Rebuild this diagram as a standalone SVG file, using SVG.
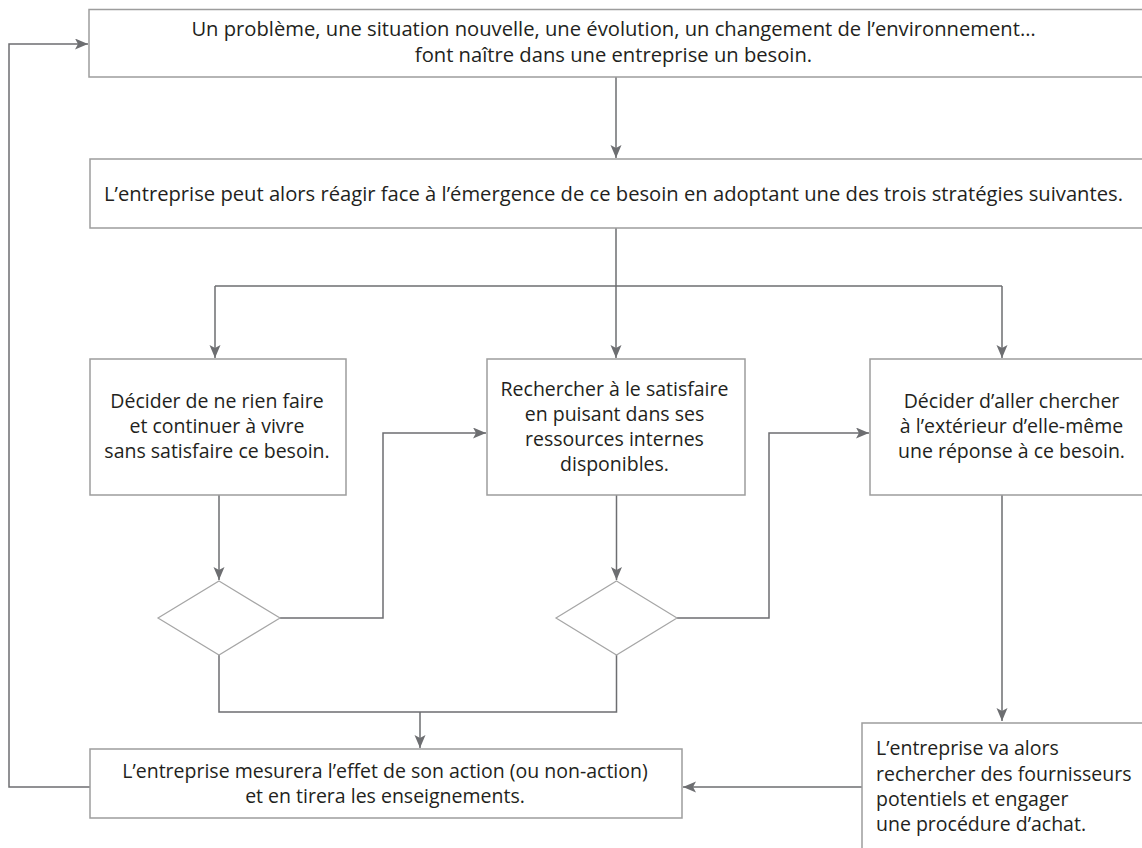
<svg xmlns="http://www.w3.org/2000/svg" width="1142" height="848" viewBox="0 0 1142 848">
<defs>
<marker id="arr" markerUnits="userSpaceOnUse" markerWidth="14" markerHeight="12" refX="13" refY="5.5" orient="auto">
<path d="M0,0 L13,5.5 L0,11 L3,5.5 z" fill="#6d6e71"/>
</marker>
<style>
.box{fill:#fff;stroke:#9d9d9d;stroke-width:1.5}
.dia{fill:#fff;stroke:#a6a6a6;stroke-width:1.2}
.con{fill:none;stroke:#6d6e71;stroke-width:1.5}
.arrow{marker-end:url(#arr)}
text{font-family:"Open Sans","Noto Sans","Liberation Sans",sans-serif;font-size:19.5px;fill:#231f20;font-variant-ligatures:none}
.big{font-size:20.2px}
.c{text-anchor:middle}
</style>
</defs>
<rect width="1142" height="848" fill="#fff"/>
<g id="connectors">
<line class="con arrow" x1="616" y1="77" x2="616" y2="158"/>
<polyline class="con" points="616,228 616,286"/>
<polyline class="con" points="215,286 1002,286"/>
<line class="con arrow" x1="215" y1="286" x2="215" y2="358"/>
<line class="con arrow" x1="616" y1="286" x2="616" y2="358"/>
<line class="con arrow" x1="1002" y1="286" x2="1002" y2="358"/>
<line class="con arrow" x1="219" y1="495" x2="219" y2="580"/>
<line class="con arrow" x1="616.5" y1="495" x2="616.5" y2="580"/>
<line class="con arrow" x1="1002" y1="495" x2="1002" y2="721"/>
<polyline class="con arrow" points="280,618 383,618 383,433 486,433"/>
<polyline class="con arrow" points="677,618 769,618 769,433 869,433"/>
<polyline class="con" points="219,655 219,712 616.5,712 616.5,655"/>
<line class="con arrow" x1="420" y1="712" x2="420" y2="748"/>
<line class="con arrow" x1="862" y1="787" x2="683" y2="787"/>
<polyline class="con arrow" points="90,787 9,787 9,44 88,44"/>
</g>
<g id="n1">
<rect class="box" x="89" y="9.5" width="1060" height="67.5"/>
<text class="c big"><tspan x="613.5" y="35.5">Un problème, une situation nouvelle, une évolution, un changement de l’environnement…</tspan><tspan x="613.5" y="61.5">font naître dans une entreprise un besoin.</tspan></text>
</g>
<g id="n2">
<rect class="box" x="90" y="159" width="1060" height="69"/>
<text class="c big" x="613.5" y="200.5">L’entreprise peut alors réagir face à l’émergence de ce besoin en adoptant une des trois stratégies suivantes.</text>
</g>
<g id="n3">
<rect class="box" x="90" y="359" width="256" height="136"/>
<text class="c"><tspan x="217" y="408">Décider de ne rien faire</tspan><tspan x="217" y="433">et continuer à vivre</tspan><tspan x="217" y="458">sans satisfaire ce besoin.</tspan></text>
</g>
<g id="n4">
<rect class="box" x="487" y="359" width="258" height="136"/>
<text class="c"><tspan x="614.5" y="395.5">Rechercher à le satisfaire</tspan><tspan x="614.5" y="420.5">en puisant dans ses</tspan><tspan x="614.5" y="445.5">ressources internes</tspan><tspan x="614.5" y="470.5">disponibles.</tspan></text>
</g>
<g id="n5">
<rect class="box" x="870" y="359" width="283" height="136"/>
<text class="c"><tspan x="1011.5" y="408">Décider d’aller chercher</tspan><tspan x="1011.5" y="433">à l’extérieur d’elle-même</tspan><tspan x="1011.5" y="458">une réponse à ce besoin.</tspan></text>
</g>
<g id="d1">
<polygon class="dia" points="219,581 280,618 219,655 158,618"/>
</g>
<g id="d2">
<polygon class="dia" points="616.5,581 677,618 616.5,655 556,618"/>
</g>
<g id="n6">
<rect class="box" x="90" y="749" width="592" height="69"/>
<text class="c"><tspan x="385" y="778">L’entreprise mesurera l’effet de son action (ou non-action)</tspan><tspan x="385" y="803">et en tirera les enseignements.</tspan></text>
</g>
<g id="n7">
<rect class="box" x="862" y="723" width="290" height="140"/>
<text><tspan x="876" y="755">L’entreprise va alors</tspan><tspan x="876" y="780.5">rechercher des fournisseurs</tspan><tspan x="876" y="806">potentiels et engager</tspan><tspan x="876" y="831">une procédure d’achat.</tspan></text>
</g>
</svg>
